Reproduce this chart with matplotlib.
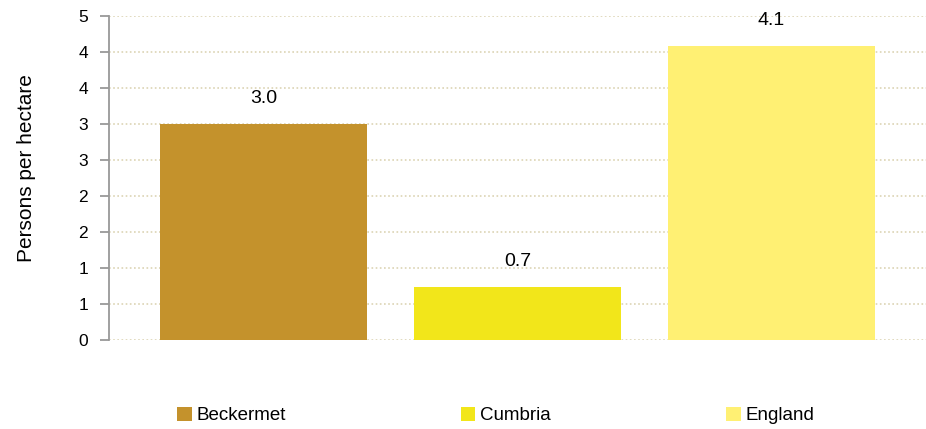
import matplotlib.pyplot as plt
from matplotlib.ticker import FixedLocator, FixedFormatter

plt.rcParams.update({
    "font.family": ["Liberation Sans", "DejaVu Sans"],
    "font.size": 12,
})

# Data
areas = ["Beckermet", "Cumbria", "England"]
density = [3.0, 0.74, 4.08]
value_labels = ["3.0", "0.7", "4.1"]
bar_colors = ["#C4922C", "#F2E61A", "#FFF073"]
tick_values = [0, 0.5, 1.0, 1.5, 2.0, 2.5, 3.0, 3.5, 4.0, 4.5]
tick_labels = ["0", "1", "1", "2", "2", "3", "3", "4", "4", "5"]

fig = plt.figure(figsize=(9.26, 4.29), dpi=100)
ax = fig.add_axes([0.1177, 0.2075, 0.8823, 0.7552])

x = list(range(len(areas)))
bars = ax.bar(x, density, width=0.815, color=bar_colors, label=areas, zorder=2)

# value labels above bars
for b, lab in zip(bars, value_labels):
    ax.annotate(lab, (b.get_x() + b.get_width() / 2, b.get_height()),
                xytext=(0, 15), textcoords="offset points",
                ha="center", va="baseline", fontsize=14)

ax.set_xlim(-0.608, 2.608)
ax.set_ylim(0, 4.5)
ax.yaxis.set_major_locator(FixedLocator(tick_values))
ax.yaxis.set_major_formatter(FixedFormatter(tick_labels))
ax.set_xticks([])

ax.grid(axis="y", color="#DCD4B4", linestyle=(0, (1, 1.5)), linewidth=1.2, zorder=0)
for s in ["top", "right", "bottom"]:
    ax.spines[s].set_visible(False)
ax.spines["left"].set_color("#999999")
ax.spines["left"].set_linewidth(1.3)
ax.tick_params(axis="y", length=6.5, width=1.3, color="#999999", pad=8.5, labelsize=12.5)

ax.set_ylabel("Persons per hectare", fontsize=15)
ax.yaxis.set_label_coords(-0.0893, 0.532)

fig.legend(handles=list(bars), labels=areas, loc="center", bbox_to_anchor=(0.5356, 0.0315),
           ncol=3, frameon=False, handlelength=0.75, handleheight=0.8,
           handletextpad=0.27, columnspacing=9.35, fontsize=13.5)

plt.savefig("out.png", dpi=100)
